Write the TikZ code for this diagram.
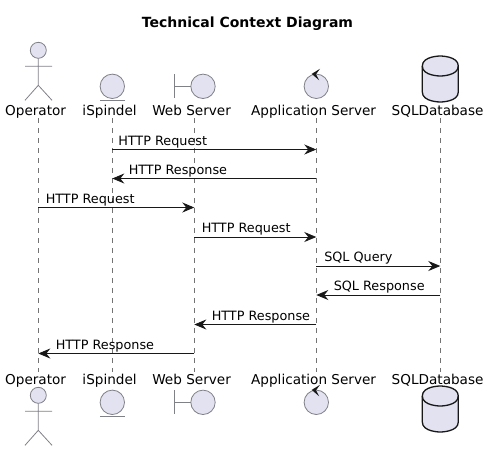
\documentclass[tikz,border=0pt]{standalone}
\usepackage{xcolor}
\usepackage{fontspec}
\setmainfont{DejaVu Sans}
\usepackage{tikz}
\usetikzlibrary{arrows.meta}
\definecolor{partfill}{HTML}{E2E2F0}
\definecolor{partline}{HTML}{808088}
\definecolor{ink}{HTML}{181818}

\tikzset{
    title/.style={inner sep=0pt, anchor=base, font=\fontsize{14}{16}\selectfont\bfseries},
    part/.style={inner sep=0pt, anchor=base, xshift=-2.7pt, font=\fontsize{13.6}{15}\selectfont},
    life/.style={dash pattern=on 5pt off 5pt, line width=0.7pt, draw=black!55},
    msg/.style={-{Stealth[length=12pt, width=10pt, inset=4pt]}, line width=0.9pt, draw=ink},
    msgtext/.style={inner sep=0pt, anchor=base west, yshift=4.5pt, font=\fontsize{12.8}{15}\selectfont},
    icon/.style={draw=partline, fill=partfill, line width=0.8pt},
    stick/.style={draw=partline, line width=0.8pt},
    pics/operatorfig/.style={code={
        \draw[icon] (0,0) circle (8pt);
        \draw[stick] (0,8) -- (0,35) (-13.3,16) -- (13.7,16) (-13.3,50) -- (0,35) -- (13.7,50);
    }},
    pics/entityfig/.style={code={
        \draw[icon] (0,0) circle (12.2pt);
        \draw[stick] (-12.5,14) -- (12.5,14);
    }},
    pics/boundaryfig/.style={code={
        \draw[icon] (8.7,0) circle (12.2pt);
        \draw[stick] (-20,-12) -- (-20,12) (-20,0) -- (-3.5,0);
    }},
    pics/controlfig/.style={code={
        \draw[icon] (0,0) circle (12.2pt);
        \fill[ink] (-4.6,-12.4) -- (3.7,-17.5) -- (-0.3,-12) -- (2.9,-6) -- cycle;
    }},
    pics/storefig/.style={code={
        \draw[draw=ink, fill=partfill, line width=1.3pt]
            (-18,10) .. controls (-18,0) and (0,0) .. (0,0)
            .. controls (0,0) and (18,0) .. (18,10) -- (18,36)
            .. controls (18,46) and (0,46) .. (0,46)
            .. controls (0,46) and (-18,46) .. (-18,36) -- cycle;
        \draw[draw=ink, line width=1.3pt]
            (-18,10) .. controls (-18,20) and (0,20) .. (0,20)
            .. controls (0,20) and (18,20) .. (18,10);
    }}
}

\begin{document}
\begin{tikzpicture}[x=1pt, y=-1pt]
\useasboundingbox (0,0) rectangle (490,451);
\node[title] (heading) at (247.5,27) {Technical Context Diagram};

% participants, top row
\node[part] (operator) at (38.3,115) {Operator};
\node[part] (ispindel) at (112.3,115) {iSpindel};
\node[part] (webserver) at (194.3,115) {Web Server};
\node[part] (appserver) at (316.3,115) {Application Server};
\node[part] (sqldb) at (440.3,115) {SQLDatabase};

% participants, bottom row
\node[part] (operatorfoot) at (38.3,384) {Operator};
\node[part] (ispindelfoot) at (112.3,384) {iSpindel};
\node[part] (webserverfoot) at (194.3,384) {Web Server};
\node[part] (appserverfoot) at (316.3,384) {Application Server};
\node[part] (sqldbfoot) at (440.3,384) {SQLDatabase};

% lifeline ends
\coordinate (operatortop) at (38.3,118);
\coordinate (ispindeltop) at (112.3,118);
\coordinate (webservertop) at (194.3,118);
\coordinate (appservertop) at (316.3,118);
\coordinate (sqldbtop) at (440.3,118);
\coordinate (operatorend) at (38.3,372);
\coordinate (ispindelend) at (112.3,372);
\coordinate (webserverend) at (194.3,372);
\coordinate (appserverend) at (316.3,372);
\coordinate (sqldbend) at (440.3,372);

% lifelines
\draw[life] (operatortop) -- (operatorend);
\draw[life] (ispindeltop) -- (ispindelend);
\draw[life] (webservertop) -- (webserverend);
\draw[life] (appservertop) -- (appserverend);
\draw[life] (sqldbtop) -- (sqldbend);

% icons
\pic at (38.3,50.3) {operatorfig};
\pic at (112.3,86.3) {entityfig};
\pic at (194.3,86.3) {boundaryfig};
\pic at (316.3,86.3) {controlfig};
\pic at (440.3,56) {storefig};
\pic at (38.3,395.3) {operatorfig};
\pic at (112.3,402.3) {entityfig};
\pic at (194.3,402.3) {boundaryfig};
\pic at (316.3,402.3) {controlfig};
\pic at (440.3,386) {storefig};

% rows of the messages
\coordinate (row1) at (0,149.5);
\coordinate (row2) at (0,178.5);
\coordinate (row3) at (0,207.5);
\coordinate (row4) at (0,237);
\coordinate (row5) at (0,266);
\coordinate (row6) at (0,295);
\coordinate (row7) at (0,324.5);
\coordinate (row8) at (0,353.5);

\draw[msg] (ispindeltop |- row1) -- node[msgtext, at start, xshift=5.5pt] (m1) {HTTP Request} (appservertop |- row1);
\draw[msg] (appservertop |- row2) -- node[msgtext, at end, xshift=16pt] (m2) {HTTP Response} (ispindeltop |- row2);
\draw[msg] (operatortop |- row3) -- node[msgtext, at start, xshift=7pt] (m3) {HTTP Request} (webservertop |- row3);
\draw[msg] (webservertop |- row4) -- node[msgtext, at start, xshift=7pt] (m4) {HTTP Request} (appservertop |- row4);
\draw[msg] (appservertop |- row5) -- node[msgtext, at start, xshift=7.5pt] (m5) {SQL Query} (sqldbtop |- row5);
\draw[msg] (sqldbtop |- row6) -- node[msgtext, at end, xshift=17pt] (m6) {SQL Response} (appservertop |- row6);
\draw[msg] (appservertop |- row7) -- node[msgtext, at end, xshift=17pt] (m7) {HTTP Response} (webservertop |- row7);
\draw[msg] (webservertop |- row8) -- node[msgtext, at end, xshift=17pt] (m8) {HTTP Response} (operatortop |- row8);
\end{tikzpicture}
\end{document}
